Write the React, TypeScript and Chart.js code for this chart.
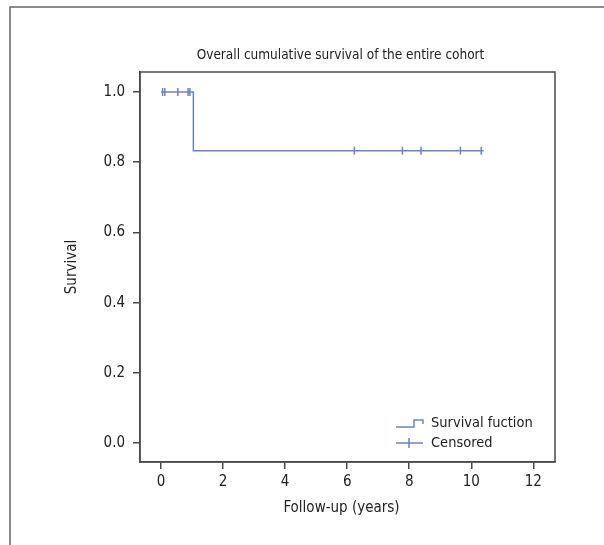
import React, { useEffect, useRef } from "react";
import { Chart, registerables } from "chart.js";

Chart.register(...registerables);

const titleText = "Overall cumulative survival of the entire cohort";
const xTitle = "Follow-up (years)";
const yTitle = "Survival";
const legendLabels = ["Survival fuction", "Censored"];

// Kaplan-Meier step function (time, survival)
const stepTimes = [0, 1.04, 10.4];
const stepSurvival = [1.0, 0.833, 0.833];

// Censored observations
const censorTimes = [0.05, 0.12, 0.54, 0.87, 0.93, 6.23, 7.78, 8.38, 9.65, 10.32];
const censorSurvival = [1.0, 1.0, 1.0, 1.0, 1.0, 0.833, 0.833, 0.833, 0.833, 0.833];

const xTicks = [0, 2, 4, 6, 8, 10, 12];
const yTicks = [0.0, 0.2, 0.4, 0.6, 0.8, 1.0];

const FONT = "'Liberation Sans Narrow', 'DejaVu Sans Condensed', 'Roboto Condensed', sans-serif";
const LINE = "#6f83c4";
const AXIS = "#4a4a4a";
const TEXT = "#222222";

const decorPlugin = {
  id: "decor",
  beforeDraw(chart: any) {
    const ctx = chart.ctx;
    ctx.save();
    ctx.strokeStyle = "#666666";
    ctx.lineWidth = 1.5;
    ctx.beginPath();
    ctx.moveTo(10, 545);
    ctx.lineTo(10, 7);
    ctx.lineTo(604, 7);
    ctx.stroke();
    ctx.restore();
  },
  afterDraw(chart: any) {
    const ctx = chart.ctx;
    const a = chart.chartArea;
    ctx.save();
    // plot frame
    ctx.strokeStyle = AXIS;
    ctx.lineWidth = 1.5;
    ctx.strokeRect(a.left, a.top, a.right - a.left, a.bottom - a.top);
    // titles
    ctx.fillStyle = TEXT;
    ctx.textAlign = "center";
    ctx.textBaseline = "middle";
    ctx.font = `13.5px ${FONT}`;
    ctx.fillText(titleText, (a.left + a.right) / 2 - 7, 55);
    ctx.font = `15px ${FONT}`;
    ctx.fillText(xTitle, (a.left + a.right) / 2 - 6, 508);
    ctx.save();
    ctx.translate(72, (a.top + a.bottom) / 2);
    ctx.rotate(-Math.PI / 2);
    ctx.fillText(yTitle, 0, 0);
    ctx.restore();
    // legend
    const lx = 396;
    const ly1 = 423;
    const ly2 = 443;
    ctx.strokeStyle = LINE;
    ctx.lineWidth = 1.5;
    ctx.beginPath();
    ctx.moveTo(lx, ly1 + 4);
    ctx.lineTo(lx + 18, ly1 + 4);
    ctx.lineTo(lx + 18, ly1 - 3);
    ctx.lineTo(lx + 27, ly1 - 3);
    ctx.lineTo(lx + 27, ly1 + 1);
    ctx.stroke();
    ctx.beginPath();
    ctx.moveTo(lx, ly2);
    ctx.lineTo(lx + 27, ly2);
    ctx.moveTo(lx + 13, ly2 - 5);
    ctx.lineTo(lx + 13, ly2 + 5);
    ctx.stroke();
    ctx.fillStyle = TEXT;
    ctx.textAlign = "left";
    ctx.font = `14.5px ${FONT}`;
    ctx.fillText(legendLabels[0], 431, ly1);
    ctx.fillText(legendLabels[1], 431, ly2);
    ctx.restore();
  },
};

export default function App() {
  const ref = useRef<HTMLCanvasElement | null>(null);
  useEffect(() => {
    if (!ref.current) return;
    const chart = new Chart(ref.current, {
      type: "scatter",
      data: {
        datasets: [
          {
            label: legendLabels[0],
            data: stepTimes.map((t, i) => ({ x: t, y: stepSurvival[i] })),
            showLine: true,
            stepped: true,
            borderColor: LINE,
            borderWidth: 1.5,
            pointRadius: 0,
            fill: false,
          },
          {
            label: legendLabels[1],
            data: censorTimes.map((t, i) => ({ x: t, y: censorSurvival[i] })),
            showLine: false,
            pointStyle: "line",
            rotation: 90,
            pointRadius: 4,
            borderColor: LINE,
            backgroundColor: LINE,
            pointBorderWidth: 1.5,
          },
        ],
      },
      options: {
        animation: false,
        responsive: false,
        maintainAspectRatio: false,
        layout: { padding: { top: 72, right: 49, left: 0, bottom: 0 } },
        plugins: { legend: { display: false }, tooltip: { enabled: false }, title: { display: false } },
        scales: {
          x: {
            type: "linear",
            min: -0.68,
            max: 12.7,
            afterFit: (s: any) => {
              s.height = 83;
            },
            afterBuildTicks: (s: any) => {
              s.ticks = xTicks.map((v) => ({ value: v }));
            },
            ticks: {
              color: TEXT,
              font: { family: FONT, size: 15 },
              padding: 4,
              maxRotation: 0,
              callback: (v: any) => String(v),
            },
            grid: { drawOnChartArea: false, drawTicks: true, tickLength: 7, color: AXIS, lineWidth: 1.5 },
            border: { display: true, color: AXIS, width: 1.5 },
          },
          y: {
            type: "linear",
            min: -0.054,
            max: 1.057,
            afterFit: (s: any) => {
              s.width = 140;
            },
            afterBuildTicks: (s: any) => {
              s.ticks = yTicks.map((v) => ({ value: v }));
            },
            ticks: {
              color: TEXT,
              font: { family: FONT, size: 15 },
              padding: 8,
              callback: (v: any) => Number(v).toFixed(1),
            },
            grid: { drawOnChartArea: false, drawTicks: true, tickLength: 7, color: AXIS, lineWidth: 1.5 },
            border: { display: true, color: AXIS, width: 1.5 },
          },
        },
      },
      plugins: [decorPlugin],
    });
    return () => chart.destroy();
  }, []);
  return (
    <canvas
      ref={ref}
      width={604}
      height={545}
      style={{ position: "fixed", left: 0, top: 0, width: 604, height: 545, background: "#fff" }}
    />
  );
}
